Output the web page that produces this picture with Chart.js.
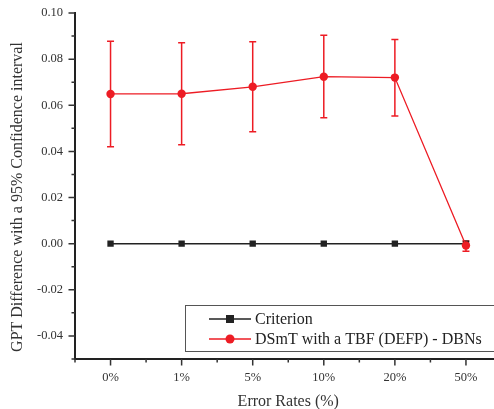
<!DOCTYPE html>
<html>
<head>
<meta charset="utf-8">
<script src="https://cdn.jsdelivr.net/npm/chart.js@4.4.0/dist/chart.umd.min.js"></script>
<style>
    html, body { margin: 0; padding: 0; background: #fff; overflow: hidden; }
    #wrap { width: 494px; height: 409px; overflow: hidden; }
</style>
</head>
<body>
<div id="wrap"><canvas id="gptChart" width="510" height="409"></canvas></div>
<script>
// Data
const errorRates = ['0%', '1%', '5%', '10%', '20%', '50%'];
const criterion = [0, 0, 0, 0, 0, 0];
const dsmt = [0.0649, 0.0650, 0.0680, 0.0724, 0.0720, -0.0008];
const dsmtUpper = [0.0877, 0.0871, 0.0875, 0.0903, 0.0885, 0.0012];
const dsmtLower = [0.0420, 0.0429, 0.0485, 0.0546, 0.0553, -0.0033];
const yTitle = 'GPT Difference with a 95% Confidence interval';

const RED = '#ed1c24';
const BLACK = '#222';
const SERIF = "'Liberation Serif', 'Times New Roman', serif";

// Error bars for the DSmT series
const errorBars = {
    id: 'errorBars',
    beforeDatasetsDraw(chart) {
        const { ctx, scales: { x, y } } = chart;
        ctx.save();
        ctx.strokeStyle = RED;
        ctx.lineWidth = 1.5;
        errorRates.forEach(function(c, i) {
            const px = x.getPixelForValue(i);
            const top = y.getPixelForValue(dsmtUpper[i]);
            const bot = y.getPixelForValue(dsmtLower[i]);
            ctx.beginPath();
            ctx.moveTo(px, top); ctx.lineTo(px, bot);
            ctx.moveTo(px - 3.5, top); ctx.lineTo(px + 3.5, top);
            ctx.moveTo(px - 3.5, bot); ctx.lineTo(px + 3.5, bot);
            ctx.stroke();
        });
        ctx.restore();
    }
};

// Outward major / minor tick marks, plus the y title
const tickMarks = {
    id: 'tickMarks',
    afterDraw(chart) {
        const { ctx, chartArea, scales: { x, y } } = chart;
        ctx.save();
        ctx.strokeStyle = '#333';
        ctx.lineWidth = 1.5;
        ctx.beginPath();
        y.ticks.forEach(function(t) {
            const py = y.getPixelForValue(t.value);
            const major = Math.round(t.value * 100) % 2 === 0;
            const len = major ? 6.5 : 3.5;
            ctx.moveTo(chartArea.left - len, py);
            ctx.lineTo(chartArea.left, py);
        });
        const half = (x.getPixelForValue(1) - x.getPixelForValue(0)) / 2;
        errorRates.forEach(function(c, i) {
            const px = x.getPixelForValue(i);
            ctx.moveTo(px, chartArea.bottom);
            ctx.lineTo(px, chartArea.bottom + 6.5);
            ctx.moveTo(px - half, chartArea.bottom);
            ctx.lineTo(px - half, chartArea.bottom + 3.5);
            if (i === errorRates.length - 1) {
                ctx.moveTo(px + half, chartArea.bottom);
                ctx.lineTo(px + half, chartArea.bottom + 3.5);
            }
        });
        ctx.stroke();

        // y axis title, a little below the plot centre as in the original
        ctx.translate(17.5, (chartArea.top + chartArea.bottom) / 2 + 11);
        ctx.rotate(-Math.PI / 2);
        ctx.fillStyle = '#333';
        ctx.font = '16px ' + SERIF;
        ctx.textAlign = 'center';
        ctx.textBaseline = 'middle';
        ctx.fillText(yTitle, 0, 0);
        ctx.restore();
    }
};

// Boxed legend inside the plot, bottom right
const boxLegend = {
    id: 'boxLegend',
    afterDraw(chart) {
        const { ctx } = chart;
        const left = 185.5, top = 305.5;
        ctx.save();
        ctx.fillStyle = '#fff';
        ctx.fillRect(left, top, 330, 46);
        ctx.strokeStyle = '#555';
        ctx.lineWidth = 1;
        ctx.strokeRect(left, top, 330, 46);
        const entries = [chart.data.datasets[0], chart.data.datasets[1]];
        entries.forEach(function(ds, i) {
            const cy = 319 + i * 20;
            ctx.strokeStyle = ds.borderColor;
            ctx.lineWidth = ds.borderWidth;
            ctx.beginPath();
            ctx.moveTo(209, cy);
            ctx.lineTo(251, cy);
            ctx.stroke();
            ctx.fillStyle = ds.pointBackgroundColor;
            if (ds.pointStyle === 'rect') {
                ctx.fillRect(230 - 4, cy - 4, 8, 8);
            } else {
                ctx.beginPath();
                ctx.arc(230, cy, 4.5, 0, Math.PI * 2);
                ctx.fill();
            }
            ctx.fillStyle = '#222';
            ctx.font = '16px ' + SERIF;
            ctx.textBaseline = 'middle';
            ctx.fillText(ds.label, 255, cy + 1);
        });
        ctx.restore();
    }
};

new Chart(
    document.getElementById('gptChart'),
    {
        type: 'line',
        data: {
            labels: errorRates,
            datasets: [
                {
                    label: 'Criterion',
                    data: criterion,
                    borderColor: BLACK,
                    backgroundColor: BLACK,
                    pointBackgroundColor: BLACK,
                    pointBorderColor: BLACK,
                    borderWidth: 1.5,
                    pointStyle: 'rect',
                    pointRadius: 4.5,
                    pointBorderWidth: 0,
                    tension: 0,
                    order: 1
                },
                {
                    label: 'DSmT with a TBF (DEFP) - DBNs',
                    data: dsmt,
                    borderColor: RED,
                    backgroundColor: RED,
                    pointBackgroundColor: RED,
                    pointBorderColor: RED,
                    borderWidth: 1.3,
                    pointStyle: 'circle',
                    pointRadius: 4.2,
                    pointBorderWidth: 0,
                    tension: 0,
                    order: 0
                }
            ]
        },
        options: {
            responsive: false,
            animation: false,
            layout: { padding: { top: 13, right: 8.5, left: 0, bottom: 0 } },
            plugins: {
                legend: { display: false },
                tooltip: { enabled: false }
            },
            scales: {
                x: {
                    offset: true,
                    afterFit: function(scale) {
                        scale.height = 50;
                        scale.paddingLeft = 0;
                        scale.paddingRight = 0;
                    },
                    grid: { drawOnChartArea: false, drawTicks: false },
                    border: { color: BLACK, width: 2 },
                    ticks: {
                        padding: 11,
                        color: '#333',
                        font: { family: SERIF, size: 12.5 }
                    },
                    title: {
                        display: true,
                        text: 'Error Rates (%)',
                        color: '#333',
                        font: { family: SERIF, size: 16 },
                        padding: { top: 0, bottom: -2 }
                    }
                },
                y: {
                    min: -0.05,
                    max: 0.10,
                    afterFit: function(scale) {
                        scale.width = 75;
                        scale.paddingTop = 0;
                        scale.paddingBottom = 0;
                    },
                    grid: { drawOnChartArea: false, drawTicks: false },
                    border: { color: BLACK, width: 2 },
                    ticks: {
                        stepSize: 0.01,
                        autoSkip: false,
                        padding: 12,
                        color: '#333',
                        font: { family: SERIF, size: 12.5 },
                        callback: function(v) {
                            const n = Math.round(v * 100);
                            if (n % 2 !== 0 || n === -5) return '';
                            return (n / 100).toFixed(2);
                        }
                    }
                }
            }
        },
        plugins: [errorBars, tickMarks, boxLegend]
    }
);
</script>
</body>
</html>
